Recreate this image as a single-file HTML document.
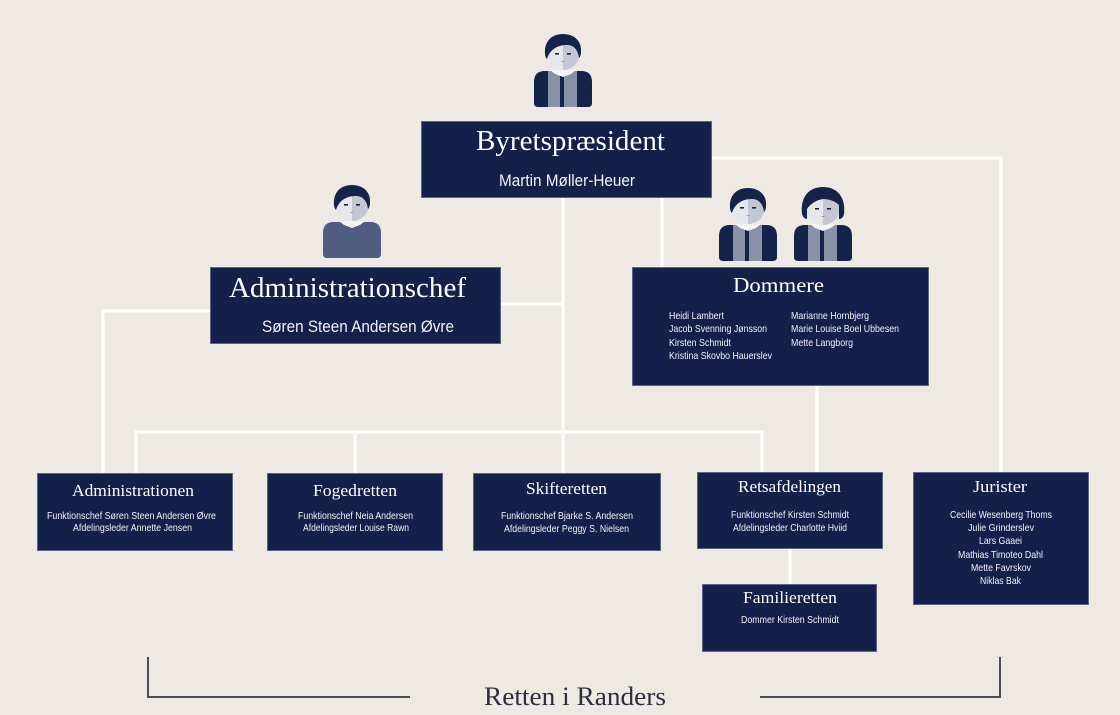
<!DOCTYPE html>
<html>
<head>
<meta charset="utf-8">
<style>
  html,body{margin:0;padding:0;background:#efe9e3;}
  svg{display:block;}
  .serif{font-family:"Liberation Serif","DejaVu Serif",serif;fill:#ffffff;}
  .sans{font-family:"Liberation Sans","DejaVu Sans",sans-serif;fill:#f2f3f6;}
</style>
</head>
<body>
<svg width="1120" height="715" viewBox="0 0 1120 715" xmlns="http://www.w3.org/2000/svg">
  <defs>
    <symbol id="man" viewBox="0 0 58 75">
      <path d="M0,50 Q0,39 11,39 L47,39 Q58,39 58,50 L58,71 Q58,75 54,75 L4,75 Q0,75 0,71 Z" fill="#13234a"/>
      <rect x="14" y="39" width="12" height="36" fill="#8891a6"/>
      <rect x="30" y="39" width="13" height="36" fill="#8891a6"/>
      <path d="M16,38 L42,38 L37,42 L29,45 L21,42 Z" fill="#f4f4f6"/>
      <path d="M29,4 A17,17 0 0 0 29,38 Z" fill="#e6e7ec"/>
      <path d="M29,4 A17,17 0 0 1 29,38 Z" fill="#c3c7d2"/>
      <path d="M11,22 C10,9 18,2 29,2 C40,2 48,9 47,20 C47,23 46,25 45,26 C44,18 40,13 33,13 C24,13 16,17 13,27 C12,26 11,24 11,22 Z" fill="#13234a"/>
      <rect x="21" y="21" width="4" height="1.6" fill="#13234a"/>
      <rect x="33" y="21" width="4" height="1.6" fill="#13234a"/>
      <rect x="27.5" y="29" width="3" height="1" fill="#98a0b0"/>
    </symbol>
    <symbol id="woman" viewBox="0 0 58 75">
      <path d="M0,50 Q0,39 11,39 L47,39 Q58,39 58,50 L58,71 Q58,75 54,75 L4,75 Q0,75 0,71 Z" fill="#13234a"/>
      <rect x="14" y="39" width="12" height="36" fill="#8891a6"/>
      <rect x="30" y="39" width="13" height="36" fill="#8891a6"/>
      <path d="M16,38 L42,38 L37,42 L29,45 L21,42 Z" fill="#f4f4f6"/>
      <path d="M29,5 A17,17 0 0 0 29,39 Z" fill="#e6e7ec"/>
      <path d="M29,5 A17,17 0 0 1 29,39 Z" fill="#c3c7d2"/>
      <path d="M8,28 C6,11 15,1 29,1 C43,1 52,11 50,28 C49,32 47,33 45,33 L45,19 C41,15 35,13 29,13 C23,14 17,17 13,23 L13,33 C11,33 9,31 8,28 Z" fill="#13234a"/>
      <rect x="21" y="22" width="4" height="1.6" fill="#13234a"/>
      <rect x="33" y="22" width="4" height="1.6" fill="#13234a"/>
      <rect x="27.5" y="30" width="3" height="1" fill="#98a0b0"/>
    </symbol>
    <symbol id="admin" viewBox="0 0 58 75">
      <path d="M0,50 Q0,39 11,39 L47,39 Q58,39 58,50 L58,71 Q58,75 54,75 L4,75 Q0,75 0,71 Z" fill="#4e5d80"/>
      <path d="M16,38 L42,38 L37,42 L29,45 L21,42 Z" fill="#f4f4f6"/>
      <path d="M29,4 A17,17 0 0 0 29,38 Z" fill="#e6e7ec"/>
      <path d="M29,4 A17,17 0 0 1 29,38 Z" fill="#c3c7d2"/>
      <path d="M11,22 C10,9 18,2 29,2 C40,2 48,9 47,20 C47,23 46,25 45,26 C44,18 40,13 33,13 C24,13 16,17 13,27 C12,26 11,24 11,22 Z" fill="#13234a"/>
      <rect x="21" y="21" width="4" height="1.6" fill="#13234a"/>
      <rect x="33" y="21" width="4" height="1.6" fill="#13234a"/>
      <rect x="27.5" y="29" width="3" height="1" fill="#98a0b0"/>
    </symbol>
  </defs>

  <rect x="0" y="0" width="1120" height="715" fill="#efe9e3"/>

  <!-- connectors -->
  <g stroke="#ffffff" stroke-width="3" fill="none">
    <line x1="563" y1="198" x2="563" y2="473"/>
    <line x1="662" y1="198" x2="662" y2="267"/>
    <polyline points="712,158 1001,158 1001,472"/>
    <line x1="501" y1="304" x2="563" y2="304"/>
    <polyline points="210,311 103,311 103,473"/>
    <polyline points="136,473 136,432 762,432 762,472"/>
    <line x1="355" y1="432" x2="355" y2="473"/>
    <line x1="817" y1="386" x2="817" y2="472"/>
    <line x1="790" y1="549" x2="790" y2="584"/>
  </g>

  <!-- icons -->
  <use href="#man" x="534" y="32" width="58" height="75"/>
  <use href="#admin" x="323" y="183" width="58" height="75"/>
  <use href="#man" x="719" y="186" width="58" height="75"/>
  <use href="#woman" x="794" y="186" width="58" height="75"/>

  <!-- boxes -->
  <g fill="#12204a" stroke="#5d6684" stroke-width="1">
    <rect x="421.5" y="121.5" width="290" height="76"/>
    <rect x="210.5" y="267.5" width="290" height="76"/>
    <rect x="632.5" y="267.5" width="296" height="118"/>
    <rect x="37.5" y="473.5" width="195" height="77"/>
    <rect x="267.5" y="473.5" width="175" height="77"/>
    <rect x="473.5" y="473.5" width="187" height="77"/>
    <rect x="697.5" y="472.5" width="185" height="76"/>
    <rect x="913.5" y="472.5" width="175" height="132"/>
    <rect x="702.5" y="584.5" width="174" height="67"/>
  </g>

  <!-- top -->
  <text class="serif" x="476" y="150" font-size="28" textLength="189" lengthAdjust="spacingAndGlyphs">Byretspræsident</text>
  <text class="sans" x="499" y="186" font-size="17" textLength="136" lengthAdjust="spacingAndGlyphs">Martin Møller-Heuer</text>

  <text class="serif" x="229" y="297" font-size="28" textLength="237" lengthAdjust="spacingAndGlyphs">Administrationschef</text>
  <text class="sans" x="262" y="332" font-size="17" textLength="192" lengthAdjust="spacingAndGlyphs">Søren Steen Andersen Øvre</text>

  <text class="serif" x="733" y="292" font-size="21" textLength="91" lengthAdjust="spacingAndGlyphs">Dommere</text>
  <g class="sans" font-size="10.5">
    <text x="669" y="319" textLength="55" lengthAdjust="spacingAndGlyphs">Heidi Lambert</text>
    <text x="669" y="332" textLength="98" lengthAdjust="spacingAndGlyphs">Jacob Svenning Jønsson</text>
    <text x="669" y="346" textLength="62" lengthAdjust="spacingAndGlyphs">Kirsten Schmidt</text>
    <text x="669" y="359" textLength="103" lengthAdjust="spacingAndGlyphs">Kristina Skovbo Hauerslev</text>
    <text x="791" y="319" textLength="78" lengthAdjust="spacingAndGlyphs">Marianne Hornbjerg</text>
    <text x="791" y="332" textLength="108" lengthAdjust="spacingAndGlyphs">Marie Louise Boel Ubbesen</text>
    <text x="791" y="346" textLength="62" lengthAdjust="spacingAndGlyphs">Mette Langborg</text>
  </g>

  <!-- lower boxes -->
  <g class="serif" font-size="17">
    <text x="72" y="496" textLength="122" lengthAdjust="spacingAndGlyphs">Administrationen</text>
    <text x="313" y="496" textLength="84" lengthAdjust="spacingAndGlyphs">Fogedretten</text>
    <text x="526" y="494" textLength="81" lengthAdjust="spacingAndGlyphs">Skifteretten</text>
    <text x="738" y="492" textLength="103" lengthAdjust="spacingAndGlyphs">Retsafdelingen</text>
    <text x="973" y="492" textLength="54" lengthAdjust="spacingAndGlyphs">Jurister</text>
    <text x="743" y="603" textLength="94" lengthAdjust="spacingAndGlyphs">Familieretten</text>
  </g>
  <g class="sans" font-size="10.5">
    <text x="47" y="519" textLength="169" lengthAdjust="spacingAndGlyphs">Funktionschef Søren Steen Andersen Øvre</text>
    <text x="73" y="531" textLength="119" lengthAdjust="spacingAndGlyphs">Afdelingsleder Annette Jensen</text>
    <text x="298" y="519" textLength="115" lengthAdjust="spacingAndGlyphs">Funktionschef Neia Andersen</text>
    <text x="303" y="531" textLength="106" lengthAdjust="spacingAndGlyphs">Afdelingsleder Louise Rawn</text>
    <text x="501" y="519" textLength="132" lengthAdjust="spacingAndGlyphs">Funktionschef Bjarke S. Andersen</text>
    <text x="504" y="532" textLength="125" lengthAdjust="spacingAndGlyphs">Afdelingsleder Peggy S. Nielsen</text>
    <text x="731" y="518" textLength="118" lengthAdjust="spacingAndGlyphs">Funktionschef Kirsten Schmidt</text>
    <text x="733" y="531" textLength="114" lengthAdjust="spacingAndGlyphs">Afdelingsleder Charlotte Hviid</text>
    <text x="950" y="518" textLength="102" lengthAdjust="spacingAndGlyphs">Cecilie Wesenberg Thoms</text>
    <text x="968" y="531" textLength="66" lengthAdjust="spacingAndGlyphs">Julie Grinderslev</text>
    <text x="979" y="544" textLength="43" lengthAdjust="spacingAndGlyphs">Lars Gaaei</text>
    <text x="958" y="558" textLength="85" lengthAdjust="spacingAndGlyphs">Mathias Timoteo Dahl</text>
    <text x="971" y="571" textLength="60" lengthAdjust="spacingAndGlyphs">Mette Favrskov</text>
    <text x="980" y="584" textLength="41" lengthAdjust="spacingAndGlyphs">Niklas Bak</text>
    <text x="741" y="623" textLength="98" lengthAdjust="spacingAndGlyphs">Dommer Kirsten Schmidt</text>
  </g>

  <!-- bottom bracket -->
  <g stroke="#4a4c5a" stroke-width="2" fill="none">
    <polyline points="148,657 148,697 410,697"/>
    <polyline points="760,697 1000,697 1000,657"/>
  </g>
  <text x="484" y="705" font-family="Liberation Serif, DejaVu Serif, serif" font-size="26" fill="#2b2e3f" textLength="182" lengthAdjust="spacingAndGlyphs">Retten i Randers</text>
</svg>
</body>
</html>
